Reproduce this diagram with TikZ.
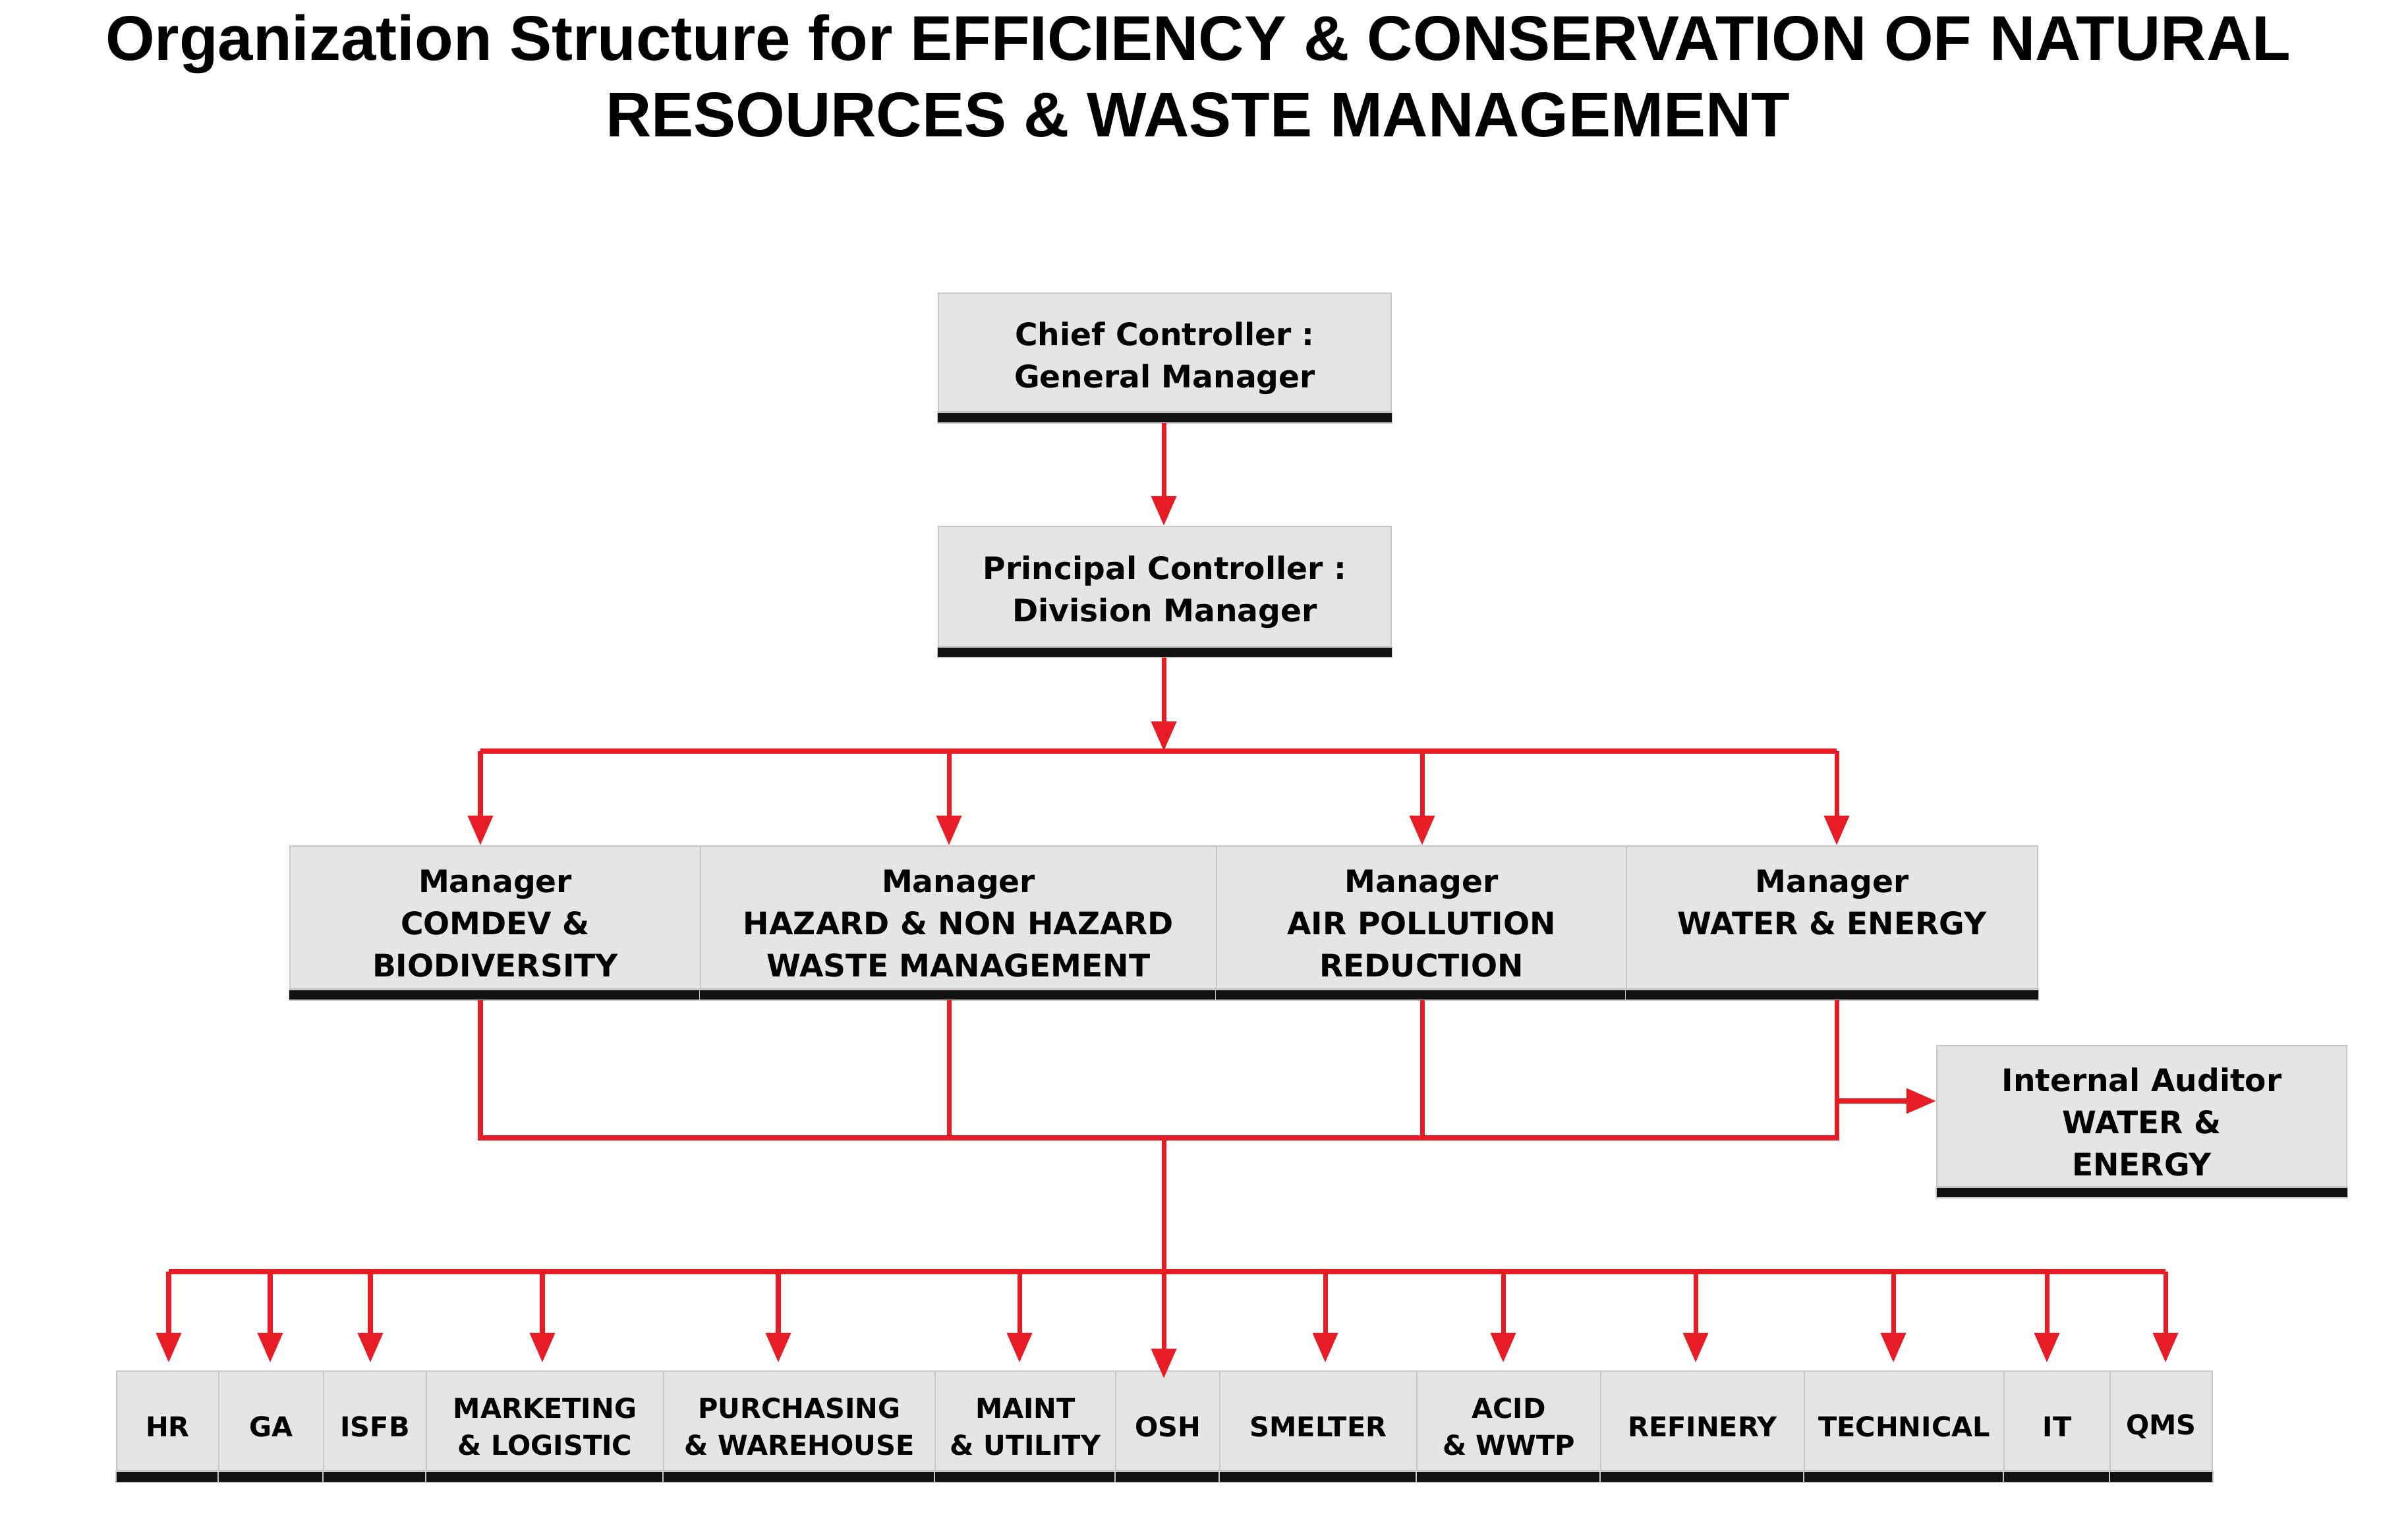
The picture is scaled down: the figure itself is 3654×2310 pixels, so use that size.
\documentclass[tikz,border=0pt]{standalone}
\usepackage{fontspec}
\newfontfamily\boxfont{DejaVu Sans}
\newfontfamily\titlefont{Liberation Sans}
\usetikzlibrary{arrows.meta}
\definecolor{linered}{RGB}{232,28,36}
\definecolor{boxgray}{RGB}{229,229,229}
\definecolor{edgegray}{RGB}{200,200,200}
\definecolor{barblack}{RGB}{17,17,17}
\newcommand\bigup{\rule{0pt}{15pt}}
\newcommand\smallup{\rule{0pt}{13.6pt}}
\begin{document}
\begin{tikzpicture}[x=0.01cm,y=-0.01cm,
  basebox/.style={fill=boxgray,draw=edgegray,line width=0.6pt,inner sep=0pt,align=center},
  box/.style={basebox,font=\boxfont\bfseries\fontsize{13.4}{18.2}\selectfont},
  mbox/.style={box,minimum height=2.17cm},
  bbox/.style={basebox,minimum height=1.51cm,font=\boxfont\bfseries\fontsize{11.8}{15.9}\selectfont},
  rl/.style={draw=linered,line width=2pt},
  arr/.style={rl,-{Triangle[width=0.37cm,length=0.45cm]}},
  titletext/.style={font=\titlefont\bfseries\fontsize{27.3}{33}\selectfont,anchor=base,inner sep=0pt},
  bar/.style={fill=barblack,draw=edgegray,line width=0.4pt}
]
\fill[white] (0,0) rectangle (3654,2310);
\useasboundingbox (0,0) rectangle (3654,2310);

% title
\node[titletext] (t1) at (1818,92) {Organization Structure for EFFICIENCY \& CONSERVATION OF NATURAL};
\node[titletext] (t2) at (1818,208) {RESOURCES \& WASTE MANAGEMENT};

% coordinates of junctions
\coordinate (j0) at (1766,1140);
\coordinate (ja) at (729,1140);
\coordinate (jb) at (1440,1140);
\coordinate (jc) at (2158,1140);
\coordinate (jd) at (2787,1140);
\coordinate (k0) at (1766,1727);
\coordinate (ka) at (729,1727);
\coordinate (kb) at (1440,1727);
\coordinate (kc) at (2158,1727);
\coordinate (kd) at (2787,1727);
\coordinate (ke) at (2787,1671);

% boxes
\node[box,minimum width=6.87cm,minimum height=1.80cm] (chief) at (1767.5,535) {\bigup Chief Controller :\\General Manager};
\node[box,minimum width=6.87cm,minimum height=1.82cm] (prin) at (1767.5,890) {\bigup Principal Controller :\\Division Manager};
\node[mbox,minimum width=6.23cm] (m1) at (751.5,1392.5) {\bigup Manager\\COMDEV \&\\BIODIVERSITY};
\node[mbox,minimum width=7.83cm] (m2) at (1454.5,1392.5) {\bigup Manager\\HAZARD \& NON HAZARD\\WASTE MANAGEMENT};
\node[mbox,minimum width=6.22cm] (m3) at (2157,1392.5) {\bigup Manager\\AIR POLLUTION\\REDUCTION};
\node[mbox,minimum width=6.24cm] (m4) at (2780,1392.5) {\bigup Manager\\WATER \& ENERGY\\~};
\node[box,minimum width=6.22cm,minimum height=2.14cm] (aud) at (3250,1694) {\bigup Internal Auditor\\WATER \&\\ENERGY};

\node[bbox,minimum width=1.55cm] (b1) at (254.5,2156.5) {\smallup HR};
\node[bbox,minimum width=1.59cm] (b2) at (411.5,2156.5) {\smallup GA};
\node[bbox,minimum width=1.56cm] (b3) at (569,2156.5) {\smallup ISFB};
\node[bbox,minimum width=3.60cm] (b4) at (827,2156.5) {\smallup MARKETING\\\& LOGISTIC};
\node[bbox,minimum width=4.12cm] (b5) at (1213,2156.5) {\smallup PURCHASING\\\& WAREHOUSE};
\node[bbox,minimum width=2.74cm] (b6) at (1556,2156.5) {\smallup MAINT\\\& UTILITY};
\node[bbox,minimum width=1.58cm] (b7) at (1772,2156.5) {\smallup OSH};
\node[bbox,minimum width=2.99cm] (b8) at (2000.5,2156.5) {\smallup SMELTER};
\node[bbox,minimum width=2.79cm] (b9) at (2289.5,2156.5) {\smallup ACID\\\& WWTP};
\node[bbox,minimum width=3.09cm] (b10) at (2583.5,2156.5) {\smallup REFINERY};
\node[bbox,minimum width=3.03cm] (b11) at (2889.5,2156.5) {\smallup TECHNICAL};
\node[bbox,minimum width=1.61cm] (b12) at (3121.5,2156.5) {\smallup IT};
\node[bbox,minimum width=1.55cm] (b13) at (3279.5,2156.5) {\smallup QMS};

% black bars under boxes
\foreach \n in {chief,prin,m1,m2,m3,m4,aud}
  \filldraw[bar] (\n.south west) rectangle ([yshift=-0.16cm]\n.south east);
\foreach \n in {b1,b2,b3,b4,b5,b6,b7,b8,b9,b10,b11,b12,b13}
  \filldraw[bar] (\n.south west) rectangle ([yshift=-0.17cm]\n.south east);

% connectors, top part
\draw[arr] ([yshift=-0.16cm]chief.south -| j0) -- (j0 |- prin.north);
\draw[arr] ([yshift=-0.16cm]prin.south -| j0) -- (j0);
\draw[rl] (ja) -- (jd);
\foreach \c/\n in {ja/m1,jb/m2,jc/m3,jd/m4}
  \draw[arr] (\c) -- (\c |- \n.north);

% connectors, middle part
\draw[rl,line join=miter] ([yshift=-0.16cm]ka |- m1.south) -- (ka) -- (kd) -- ([yshift=-0.16cm]kd |- m4.south);
\draw[rl] ([yshift=-0.16cm]kb |- m2.south) -- (kb);
\draw[rl] ([yshift=-0.16cm]kc |- m3.south) -- (kc);
\draw[arr] (ke) -- (ke -| aud.west);
\draw[arr] (k0) -- ([yshift=-0.12cm]k0 |- b7.north);

% bottom bus
\foreach \i/\x in {1/256,2/410,3/562,4/823,5/1181,6/1547,8/2011,9/2281,10/2573,11/2873,12/3106,13/3286}
  \coordinate (p\i) at (\x,1930);
\draw[rl] (p1) -- (p13);
\foreach \i in {1,2,3,4,5,6,8,9,10,11,12,13}
  \draw[arr,shorten >=0.12cm] (p\i) -- (p\i |- b\i.north);
\end{tikzpicture}
\end{document}
